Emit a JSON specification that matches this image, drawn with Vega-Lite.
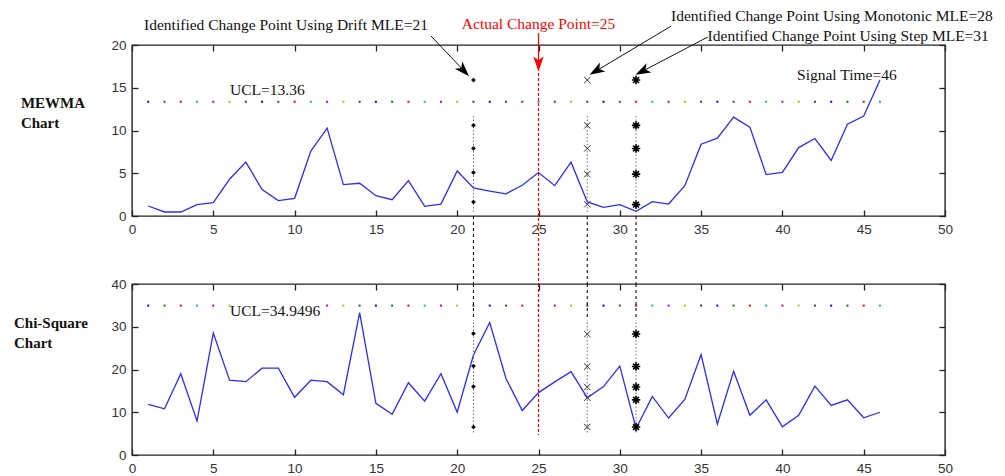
{
  "$schema": "https://vega.github.io/schema/vega-lite/v6.json",
  "padding": {"left": 13, "top": 8, "right": 5, "bottom": 5},
  "bounds": "flush",
  "spacing": 68,
  "background": "white",
  "config": {
    "view": {"stroke": "#222", "strokeWidth": 1.4},
    "axis": {"grid": false, "domain": false, "tickSize": -6, "tickColor": "#222", "tickWidth": 1.3, "labelFont": "Liberation Sans", "labelFontSize": 13.5, "labelColor": "#333", "labelFlush": false, "labelOverlap": false, "title": null},
    "text": {"font": "Liberation Serif", "fontSize": 15.5}
  },
  "datasets": {
    "mewma": [
      {"t":1,"v":1.17},{"t":2,"v":0.47},{"t":3,"v":0.47},{"t":4,"v":1.33},{"t":5,"v":1.56},{"t":6,"v":4.3},{"t":7,"v":6.3},{"t":8,"v":3.1},{"t":9,"v":1.8},{"t":10,"v":2.07},
      {"t":11,"v":7.6},{"t":12,"v":10.27},{"t":13,"v":3.67},{"t":14,"v":3.83},{"t":15,"v":2.38},{"t":16,"v":1.91},{"t":17,"v":4.14},{"t":18,"v":1.13},{"t":19,"v":1.4},{"t":20,"v":5.27},
      {"t":21,"v":3.28},{"t":22,"v":2.9},{"t":23,"v":2.6},{"t":24,"v":3.6},{"t":25,"v":5.08},{"t":26,"v":3.55},{"t":27,"v":6.3},{"t":28,"v":1.64},{"t":29,"v":1.0},{"t":30,"v":1.33},
      {"t":31,"v":0.55},{"t":32,"v":1.68},{"t":33,"v":1.4},{"t":34,"v":3.55},{"t":35,"v":8.4},{"t":36,"v":9.1},{"t":37,"v":11.56},{"t":38,"v":10.4},{"t":39,"v":4.84},{"t":40,"v":5.1},
      {"t":41,"v":8.0},{"t":42,"v":9.06},{"t":43,"v":6.5},{"t":44,"v":10.74},{"t":45,"v":11.7},{"t":46,"v":15.9}
    ],
    "chi": [
      {"t":1,"v":11.85},{"t":2,"v":10.8},{"t":3,"v":19.0},{"t":4,"v":7.95},{"t":5,"v":28.5},{"t":6,"v":17.5},{"t":7,"v":17.15},{"t":8,"v":20.3},{"t":9,"v":20.3},{"t":10,"v":13.5},
      {"t":11,"v":17.5},{"t":12,"v":17.15},{"t":13,"v":14.1},{"t":14,"v":33.3},{"t":15,"v":12.1},{"t":16,"v":9.5},{"t":17,"v":16.9},{"t":18,"v":12.6},{"t":19,"v":19.0},{"t":20,"v":10.0},
      {"t":21,"v":23.4},{"t":22,"v":31.0},{"t":23,"v":17.9},{"t":24,"v":10.4},{"t":25,"v":14.6},{"t":26,"v":17.1},{"t":27,"v":19.5},{"t":28,"v":13.4},{"t":29,"v":16.0},{"t":30,"v":20.8},
      {"t":31,"v":6.2},{"t":32,"v":13.7},{"t":33,"v":8.65},{"t":34,"v":13.0},{"t":35,"v":23.5},{"t":36,"v":7.25},{"t":37,"v":19.6},{"t":38,"v":9.3},{"t":39,"v":12.9},{"t":40,"v":6.6},
      {"t":41,"v":9.3},{"t":42,"v":16.1},{"t":43,"v":11.6},{"t":44,"v":12.9},{"t":45,"v":8.7},{"t":46,"v":10.0}
    ],
    "ucl_top": [
      {"t":1,"k":1,"v":13.36},{"t":2,"k":2,"v":13.36},{"t":3,"k":3,"v":13.36},{"t":4,"k":4,"v":13.36},{"t":5,"k":5,"v":13.36},{"t":6,"k":6,"v":13.36},{"t":7,"k":7,"v":13.36},
      {"t":8,"k":1,"v":13.36},{"t":9,"k":2,"v":13.36},{"t":10,"k":3,"v":13.36},{"t":11,"k":4,"v":13.36},{"t":12,"k":5,"v":13.36},{"t":13,"k":6,"v":13.36},{"t":14,"k":7,"v":13.36},
      {"t":15,"k":1,"v":13.36},{"t":16,"k":2,"v":13.36},{"t":17,"k":3,"v":13.36},{"t":18,"k":4,"v":13.36},{"t":19,"k":5,"v":13.36},{"t":20,"k":6,"v":13.36},{"t":21,"k":7,"v":13.36},
      {"t":22,"k":1,"v":13.36},{"t":23,"k":2,"v":13.36},{"t":24,"k":3,"v":13.36},{"t":25,"k":4,"v":13.36},{"t":26,"k":5,"v":13.36},{"t":27,"k":6,"v":13.36},{"t":28,"k":7,"v":13.36},
      {"t":29,"k":1,"v":13.36},{"t":30,"k":2,"v":13.36},{"t":31,"k":3,"v":13.36},{"t":32,"k":4,"v":13.36},{"t":33,"k":5,"v":13.36},{"t":34,"k":6,"v":13.36},{"t":35,"k":7,"v":13.36},
      {"t":36,"k":1,"v":13.36},{"t":37,"k":2,"v":13.36},{"t":38,"k":3,"v":13.36},{"t":39,"k":4,"v":13.36},{"t":40,"k":5,"v":13.36},{"t":41,"k":6,"v":13.36},{"t":42,"k":7,"v":13.36},
      {"t":43,"k":1,"v":13.36},{"t":44,"k":2,"v":13.36},{"t":45,"k":3,"v":13.36},{"t":46,"k":4,"v":13.36}
    ],
    "ucl_bot": [
      {"t":1,"k":1,"v":34.9496},{"t":2,"k":2,"v":34.9496},{"t":3,"k":3,"v":34.9496},{"t":4,"k":4,"v":34.9496},{"t":5,"k":5,"v":34.9496},{"t":6,"k":6,"v":34.9496},
      {"t":12,"k":5,"v":34.9496},{"t":13,"k":6,"v":34.9496},{"t":14,"k":7,"v":34.9496},
      {"t":15,"k":1,"v":34.9496},{"t":16,"k":2,"v":34.9496},{"t":17,"k":3,"v":34.9496},{"t":18,"k":4,"v":34.9496},{"t":19,"k":5,"v":34.9496},{"t":20,"k":6,"v":34.9496},{"t":21,"k":7,"v":34.9496},
      {"t":22,"k":1,"v":34.9496},{"t":23,"k":2,"v":34.9496},{"t":24,"k":3,"v":34.9496},{"t":25,"k":4,"v":34.9496},{"t":26,"k":5,"v":34.9496},{"t":27,"k":6,"v":34.9496},{"t":28,"k":7,"v":34.9496},
      {"t":29,"k":1,"v":34.9496},{"t":30,"k":2,"v":34.9496},{"t":31,"k":3,"v":34.9496},{"t":32,"k":4,"v":34.9496},{"t":33,"k":5,"v":34.9496},{"t":34,"k":6,"v":34.9496},{"t":35,"k":7,"v":34.9496},
      {"t":36,"k":1,"v":34.9496},{"t":37,"k":2,"v":34.9496},{"t":38,"k":3,"v":34.9496},{"t":39,"k":4,"v":34.9496},{"t":40,"k":5,"v":34.9496},{"t":41,"k":6,"v":34.9496},{"t":42,"k":7,"v":34.9496},
      {"t":43,"k":1,"v":34.9496},{"t":44,"k":2,"v":34.9496},{"t":45,"k":3,"v":34.9496},{"t":46,"k":4,"v":34.9496}
    ],
    "mk_top": [
      {"t":21,"v":15.9,"m":"drift"},{"t":21,"v":10.6,"m":"drift"},{"t":21,"v":7.9,"m":"drift"},{"t":21,"v":5.08,"m":"drift"},{"t":21,"v":1.64,"m":"drift"},
      {"t":28,"v":15.9,"m":"mono"},{"t":28,"v":10.6,"m":"mono"},{"t":28,"v":7.9,"m":"mono"},{"t":28,"v":4.9,"m":"mono"},{"t":28,"v":1.37,"m":"mono"},
      {"t":31,"v":15.9,"m":"step"},{"t":31,"v":10.6,"m":"step"},{"t":31,"v":7.9,"m":"step"},{"t":31,"v":4.9,"m":"step"},{"t":31,"v":1.33,"m":"step"}
    ],
    "mk_bot": [
      {"t":21,"v":28.4,"m":"drift"},{"t":21,"v":20.8,"m":"drift"},{"t":21,"v":16.0,"m":"drift"},{"t":21,"v":6.55,"m":"drift"},
      {"t":28,"v":28.3,"m":"mono"},{"t":28,"v":20.7,"m":"mono"},{"t":28,"v":15.9,"m":"mono"},{"t":28,"v":13.4,"m":"mono"},{"t":28,"v":6.55,"m":"mono"},
      {"t":31,"v":28.3,"m":"step"},{"t":31,"v":20.7,"m":"step"},{"t":31,"v":15.9,"m":"step"},{"t":31,"v":12.9,"m":"step"},{"t":31,"v":6.55,"m":"step"}
    ]
  },
  "vconcat": [
    {
      "width": 813,
      "height": 171,
      "resolve": {"axis": {"x": "independent", "y": "independent"}},
      "encoding": {
        "x": {"field": "t", "type": "quantitative", "scale": {"domain": [0, 50], "nice": false}, "axis": null},
        "y": {"field": "v", "type": "quantitative", "scale": {"domain": [0, 20], "nice": false}, "axis": null}
      },
      "layer": [
        {
          "data": {"name": "ucl_top"},
          "mark": {"type": "point", "shape": "square", "filled": true, "size": 4, "opacity": 1},
          "encoding": {
            "color": {"field": "k", "type": "nominal", "legend": null, "scale": {"domain": [1,2,3,4,5,6,7], "range": ["#0000ff", "#008000", "#ff0000", "#00bfbf", "#bf00bf", "#bfbf00", "#404040"]}}
          }
        },
        {
          "data": {"name": "mewma"},
          "mark": {"type": "line", "color": "#2b2bff", "strokeWidth": 1.3},
          "encoding": {
            "x": {"field": "t", "type": "quantitative", "scale": {"domain": [0, 50], "nice": false}, "axis": {"orient": "bottom", "values": [0,5,10,15,20,25,30,35,40,45,50], "labelPadding": 12}},
            "y": {"field": "v", "type": "quantitative", "scale": {"domain": [0, 20], "nice": false}, "axis": {"orient": "left", "values": [0,5,10,15,20], "labelPadding": 12}}
          }
        },
        {
          "data": {"name": "mewma"},
          "mark": {"type": "line", "opacity": 0},
          "encoding": {
            "x": {"field": "t", "type": "quantitative", "scale": {"domain": [0, 50], "nice": false}, "axis": {"orient": "top", "values": [0,5,10,15,20,25,30,35,40,45,50], "labels": false}},
            "y": {"field": "v", "type": "quantitative", "scale": {"domain": [0, 20], "nice": false}, "axis": {"orient": "right", "values": [0,5,10,15,20], "labels": false}}
          }
        },
        {
          "data": {"values": [{"t": 21, "v": 11.7, "v2": 0.3}, {"t": 28, "v": 11.7, "v2": 0.3}, {"t": 31, "v": 11.7, "v2": 0.3}]},
          "mark": {"type": "rule", "color": "#6a6a8a", "strokeWidth": 1, "strokeDash": [1.5, 2]},
          "encoding": {"y2": {"field": "v2"}}
        },
        {
          "data": {"values": [{"t": 21, "v": 0, "v2": -8}, {"t": 28, "v": 0, "v2": -8}, {"t": 31, "v": 0, "v2": -8}]},
          "mark": {"type": "rule", "color": "#111", "strokeWidth": 1.1, "strokeDash": [3, 3]},
          "encoding": {"y2": {"field": "v2"}}
        },
        {
          "data": {"values": [{"t": 25, "v": 17.9, "v2": -8}]},
          "mark": {"type": "rule", "color": "#ff0000", "strokeWidth": 1.2, "strokeDash": [3, 2]},
          "encoding": {"y2": {"field": "v2"}}
        },
        {
          "data": {"values": [{"t": 25, "v": 21.4, "v2": 17.9}]},
          "mark": {"type": "rule", "color": "#ff0000", "strokeWidth": 1.2},
          "encoding": {"y2": {"field": "v2"}}
        },
        {
          "data": {"values": [{"t": 25, "v": 17.9}]},
          "mark": {"type": "point", "shape": "M0,-1L0.6,0.75L0,0.3L-0.6,0.75Z", "filled": true, "color": "#ff0000", "size": 300, "opacity": 1, "angle": 180}
        },
        {
          "data": {"values": [{"t": 18.39, "v": 21.05, "t2": 20.36, "v2": 17.09}, {"t": 33.15, "v": 22.2, "t2": 28.6, "v2": 17.03}, {"t": 35.42, "v": 20.94, "t2": 31.44, "v2": 16.98}]},
          "mark": {"type": "rule", "color": "#111", "strokeWidth": 1},
          "encoding": {"x2": {"field": "t2"}, "y2": {"field": "v2"}}
        },
        {
          "data": {"values": [{"t": 20.36, "v": 17.09}]},
          "mark": {"type": "point", "shape": "M0,-1L0.6,0.75L0,0.3L-0.6,0.75Z", "filled": true, "color": "#000", "size": 300, "opacity": 1, "angle": 136.5}
        },
        {
          "data": {"values": [{"t": 28.6, "v": 17.03}]},
          "mark": {"type": "point", "shape": "M0,-1L0.6,0.75L0,0.3L-0.6,0.75Z", "filled": true, "color": "#000", "size": 300, "opacity": 1, "angle": 239}
        },
        {
          "data": {"values": [{"t": 31.44, "v": 16.98}]},
          "mark": {"type": "point", "shape": "M0,-1L0.6,0.75L0,0.3L-0.6,0.75Z", "filled": true, "color": "#000", "size": 300, "opacity": 1, "angle": 242.5}
        },
        {
          "data": {"name": "mk_top"},
          "transform": [{"filter": "datum.m === 'drift'"}],
          "mark": {"type": "point", "shape": "diamond", "filled": true, "color": "#000", "size": 22, "opacity": 1}
        },
        {
          "data": {"name": "mk_top"},
          "transform": [{"filter": "datum.m === 'mono'"}],
          "mark": {"type": "point", "shape": "M-1,-1L1,1M1,-1L-1,1", "filled": false, "color": "#333", "strokeWidth": 1, "size": 40, "opacity": 1}
        },
        {
          "data": {"name": "mk_top"},
          "transform": [{"filter": "datum.m === 'step'"}],
          "mark": {"type": "point", "shape": "M-1,0L1,0M0,-1L0,1M-0.7,-0.7L0.7,0.7M0.7,-0.7L-0.7,0.7", "filled": false, "color": "#000", "strokeWidth": 1.6, "size": 70, "opacity": 1}
        },
        {
          "data": {"values": [{"t": 9.47, "v": 22.3, "label": "Identified Change Point Using Drift MLE=21"}]},
          "mark": {"type": "text", "align": "center", "baseline": "middle", "color": "#111"},
          "encoding": {"text": {"field": "label"}}
        },
        {
          "data": {"values": [{"t": 25, "v": 22.5, "label": "Actual Change Point=25"}]},
          "mark": {"type": "text", "align": "center", "baseline": "middle", "color": "#ff0000"},
          "encoding": {"text": {"field": "label"}}
        },
        {
          "data": {"values": [{"t": 33.15, "v": 23.4, "label": "Identified Change Point Using Monotonic MLE=28"}, {"t": 35.4, "v": 21.05, "label": "Identified Change Point Using Step MLE=31"}, {"t": 40.9, "v": 16.5, "label": "Signal Time=46"}, {"t": 6.03, "v": 14.7, "label": "UCL=13.36"}]},
          "mark": {"type": "text", "align": "left", "baseline": "middle", "color": "#111"},
          "encoding": {"text": {"field": "label"}}
        },
        {
          "data": {"values": [{"t": -6.83, "v": 14.05, "label": "MEWMA\nChart"}]},
          "mark": {"type": "text", "align": "left", "baseline": "top", "fontWeight": "bold", "fontSize": 15, "lineBreak": "\n", "lineHeight": 20, "color": "#111"},
          "encoding": {"text": {"field": "label"}}
        }
      ]
    },
    {
      "width": 813,
      "height": 171,
      "resolve": {"axis": {"x": "independent", "y": "independent"}},
      "encoding": {
        "x": {"field": "t", "type": "quantitative", "scale": {"domain": [0, 50], "nice": false}, "axis": null},
        "y": {"field": "v", "type": "quantitative", "scale": {"domain": [0, 40], "nice": false}, "axis": null}
      },
      "layer": [
        {
          "data": {"name": "ucl_bot"},
          "mark": {"type": "point", "shape": "square", "filled": true, "size": 4, "opacity": 1},
          "encoding": {
            "color": {"field": "k", "type": "nominal", "legend": null, "scale": {"domain": [1,2,3,4,5,6,7], "range": ["#0000ff", "#008000", "#ff0000", "#00bfbf", "#bf00bf", "#bfbf00", "#404040"]}}
          }
        },
        {
          "data": {"name": "chi"},
          "mark": {"type": "line", "color": "#2b2bff", "strokeWidth": 1.3},
          "encoding": {
            "x": {"field": "t", "type": "quantitative", "scale": {"domain": [0, 50], "nice": false}, "axis": {"orient": "bottom", "values": [0,5,10,15,20,25,30,35,40,45,50], "labelPadding": 12}},
            "y": {"field": "v", "type": "quantitative", "scale": {"domain": [0, 40], "nice": false}, "axis": {"orient": "left", "values": [0,10,20,30,40], "labelPadding": 12}}
          }
        },
        {
          "data": {"name": "chi"},
          "mark": {"type": "line", "opacity": 0},
          "encoding": {
            "x": {"field": "t", "type": "quantitative", "scale": {"domain": [0, 50], "nice": false}, "axis": {"orient": "top", "values": [0,5,10,15,20,25,30,35,40,45,50], "labels": false}},
            "y": {"field": "v", "type": "quantitative", "scale": {"domain": [0, 40], "nice": false}, "axis": {"orient": "right", "values": [0,10,20,30,40], "labels": false}}
          }
        },
        {
          "data": {"values": [{"t": 21, "v": 40, "v2": 31.5}, {"t": 28, "v": 40, "v2": 31.5}, {"t": 31, "v": 40, "v2": 31.5}]},
          "mark": {"type": "rule", "color": "#111", "strokeWidth": 1.1, "strokeDash": [3, 3]},
          "encoding": {"y2": {"field": "v2"}}
        },
        {
          "data": {"values": [{"t": 21, "v": 31, "v2": 5}, {"t": 28, "v": 31, "v2": 5}, {"t": 31, "v": 31, "v2": 5}]},
          "mark": {"type": "rule", "color": "#6a6a8a", "strokeWidth": 1, "strokeDash": [1.5, 2]},
          "encoding": {"y2": {"field": "v2"}}
        },
        {
          "data": {"values": [{"t": 25, "v": 40, "v2": 4.7}]},
          "mark": {"type": "rule", "color": "#ff0000", "strokeWidth": 1.2, "strokeDash": [3, 2]},
          "encoding": {"y2": {"field": "v2"}}
        },
        {
          "data": {"name": "mk_bot"},
          "transform": [{"filter": "datum.m === 'drift'"}],
          "mark": {"type": "point", "shape": "diamond", "filled": true, "color": "#000", "size": 22, "opacity": 1}
        },
        {
          "data": {"name": "mk_bot"},
          "transform": [{"filter": "datum.m === 'mono'"}],
          "mark": {"type": "point", "shape": "M-1,-1L1,1M1,-1L-1,1", "filled": false, "color": "#333", "strokeWidth": 1, "size": 40, "opacity": 1}
        },
        {
          "data": {"name": "mk_bot"},
          "transform": [{"filter": "datum.m === 'step'"}],
          "mark": {"type": "point", "shape": "M-1,0L1,0M0,-1L0,1M-0.7,-0.7L0.7,0.7M0.7,-0.7L-0.7,0.7", "filled": false, "color": "#000", "strokeWidth": 1.6, "size": 70, "opacity": 1}
        },
        {
          "data": {"values": [{"t": 6.03, "v": 33.7, "label": "UCL=34.9496"}]},
          "mark": {"type": "text", "align": "left", "baseline": "middle", "color": "#111"},
          "encoding": {"text": {"field": "label"}}
        },
        {
          "data": {"values": [{"t": -7.26, "v": 32.5, "label": "Chi-Square\nChart"}]},
          "mark": {"type": "text", "align": "left", "baseline": "top", "fontWeight": "bold", "fontSize": 15, "lineBreak": "\n", "lineHeight": 20, "color": "#111"},
          "encoding": {"text": {"field": "label"}}
        }
      ]
    }
  ]
}
